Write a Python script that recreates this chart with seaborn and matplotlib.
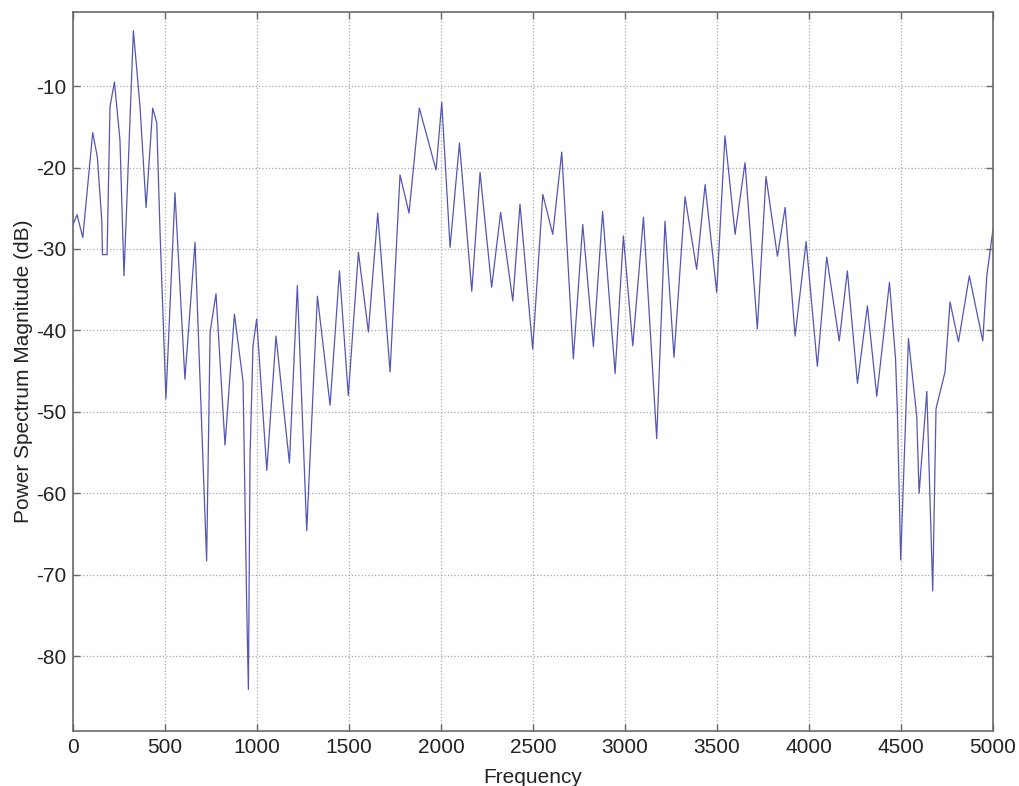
import seaborn as sns
import matplotlib.pyplot as plt

# Valores (picos, vales e alguns ombros da curva)
frequencia = [0, 22, 53, 107, 132, 156, 160, 185, 201, 225, 255, 277, 328, 364,
              397, 433, 455, 473, 505, 554, 608, 663, 726, 745, 777, 826, 877,
              924, 944, 953, 962, 978, 998, 1053, 1103, 1176, 1219, 1270, 1328,
              1397, 1448, 1496, 1551, 1605, 1656, 1723, 1777, 1826, 1882, 1973,
              2004, 2049, 2100, 2167, 2212, 2275, 2324, 2390, 2429, 2498, 2553,
              2607, 2656, 2719, 2770, 2828, 2878, 2946, 2991, 3042, 3100, 3172,
              3217, 3266, 3326, 3389, 3435, 3498, 3543, 3598, 3652, 3719, 3766,
              3828, 3870, 3924, 3984, 4045, 4096, 4164, 4208, 4263, 4317, 4368,
              4437, 4470, 4480, 4498, 4540, 4585, 4598, 4640, 4672, 4690, 4739,
              4766, 4812, 4871, 4944, 4966, 5000]
potencia_db = [-27.0, -25.8, -28.6, -15.7, -18.7, -26.4, -30.7, -30.7, -12.5,
               -9.5, -16.6, -33.3, -3.2, -12.5, -24.9, -12.7, -14.5, -28.0,
               -48.4, -23.1, -46.0, -29.2, -68.3, -40.2, -35.5, -54.1, -38.0,
               -46.3, -74.0, -84.1, -55.4, -41.9, -38.6, -57.2, -40.7, -56.3,
               -34.5, -64.6, -35.8, -49.2, -32.7, -48.0, -30.4, -40.2, -25.6,
               -45.1, -20.9, -25.6, -12.7, -20.3, -12.0, -29.8, -17.0, -35.2,
               -20.6, -34.7, -25.5, -36.4, -24.5, -42.3, -23.3, -28.2, -18.1,
               -43.5, -27.0, -42.0, -25.4, -45.3, -28.4, -41.9, -26.1, -53.3,
               -26.6, -43.3, -23.6, -32.5, -22.1, -35.3, -16.1, -28.2, -19.4,
               -39.8, -21.1, -30.9, -24.9, -40.7, -29.1, -44.4, -31.0, -41.3,
               -32.7, -46.5, -37.0, -48.1, -34.1, -43.5, -50.0, -68.2, -41.0,
               -50.5, -60.0, -47.5, -72.0, -49.6, -45.1, -36.5, -41.4, -33.3,
               -41.3, -33.3, -27.5]

ticks_x = [0, 500, 1000, 1500, 2000, 2500, 3000, 3500, 4000, 4500, 5000]
ticks_y = [-80, -70, -60, -50, -40, -30, -20, -10]

sns.set_style('ticks')
plt.rcParams['font.family'] = ['Liberation Sans', 'DejaVu Sans']
plt.rcParams['axes.unicode_minus'] = False

fig = plt.figure(figsize=(10.2, 7.86), dpi=100)
ax = fig.add_axes([0.0716, 0.070, 0.902, 0.9147])

sns.lineplot(x=frequencia, y=potencia_db, estimator=None, sort=False,
             color='#5656b2', linewidth=0.9, ax=ax)

ax.set_xlim(0, 5000)
ax.set_ylim(-89.2, -0.9)
ax.set_xticks(ticks_x)
ax.set_yticks(ticks_y)
ax.grid(True, linestyle=':', color='#a8a8a8', linewidth=0.9)

for lado in ['top', 'right', 'bottom', 'left']:
    ax.spines[lado].set_visible(True)
    ax.spines[lado].set_color('#6a6a6a')
    ax.spines[lado].set_linewidth(1.2)

ax.tick_params(direction='in', top=True, right=True, length=5, width=1,
               color='#6a6a6a', labelsize=15, labelcolor='#222222', pad=5)
ax.set_xlabel('Frequency', fontsize=15, color='#222222', labelpad=8)
ax.set_ylabel('Power Spectrum Magnitude (dB)', fontsize=15, color='#222222',
              labelpad=2)

fig.savefig('out.png', dpi=100)
